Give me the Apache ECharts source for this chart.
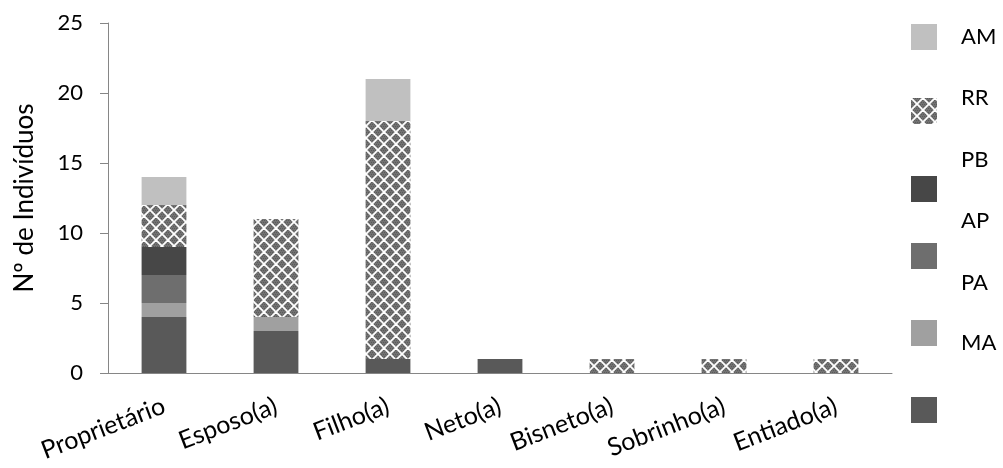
<!DOCTYPE html>
<html><head><meta charset="utf-8">
<script src="https://cdn.jsdelivr.net/npm/echarts@6/dist/echarts.min.js"></script>
<style>html,body{margin:0;padding:0;background:#fff}#c{width:1003px;height:468px}</style>
</head><body><div id="c"></div>
<script>
const categories = ['Proprietário','Esposo(a)','Filho(a)','Neto(a)','Bisneto(a)','Sobrinho(a)','Entiado(a)'];
const yTicks = [0,5,10,15,20,25];
// series from bottom of stack to top
const seriesBlank = [4,3,1,1,0,0,0];
const seriesMA = [1,1,0,0,0,0,0];
const seriesPA = [2,0,0,0,0,0,0];
const seriesAP = [2,0,0,0,0,0,0];
const seriesPB = [0,0,0,0,0,0,0];
const seriesRR = [3,7,17,0,1,1,1];
const seriesAM = [2,0,3,0,0,0,0];

const FONT = 'Lato';

function makePattern(){
  const P = 12;
  const c = document.createElement('canvas');
  c.width = P; c.height = P;
  const g = c.getContext('2d');
  g.fillStyle = '#727272'; g.fillRect(0,0,P,P);
  g.fillStyle = '#5a5a5a';
  for (let y=0;y<P;y+=2) for (let x=(y/2)%2;x<P;x+=2) g.fillRect(x,y,1,1);
  g.strokeStyle = '#ffffff'; g.lineWidth = 1.8;
  for (let k=-P;k<=2*P;k+=P){
    g.beginPath(); g.moveTo(k,0); g.lineTo(k+P,P); g.stroke();
    g.beginPath(); g.moveTo(k,P); g.lineTo(k+P,0); g.stroke();
  }
  return c;
}
const pattern = {image: makePattern(), repeat: 'repeat'};

const defs = [
  {name:' ', data:seriesBlank, color:'#595959'},
  {name:'MA', data:seriesMA, color:'#a0a0a0'},
  {name:'PA', data:seriesPA, color:'#6e6e6e'},
  {name:'AP', data:seriesAP, color:'#474747'},
  {name:'PB', data:seriesPB, color:'#ffffff'},
  {name:'RR', data:seriesRR, color:pattern},
  {name:'AM', data:seriesAM, color:'#c0c0c0'}
];

// legend layout (top to bottom)
const legendNames = ['AM','RR','PB','AP','PA','MA',' '];
const swatchCenters = {'AM':37,'RR':111,'AP':189,'PA':256,'MA':333,' ':410};
const labelCenters = [37,98,160,221,283,343,404];

const legends = [];
legendNames.forEach((n,i)=>{
  if (swatchCenters[n] !== undefined){
    legends.push({
      data:[{name:n, icon:'rect'}], orient:'vertical', left:911, top:swatchCenters[n]-13,
      itemWidth:26, itemHeight:26, padding:0, formatter:()=>'' ,
      textStyle:{fontSize:1}
    });
  }
  legends.push({
    data:[{name:n, icon:'rect', itemStyle:{opacity:0}}], orient:'vertical', left:955, top:labelCenters[i]-12,
    itemWidth:1, itemHeight:1, padding:0, itemGap:0,
    textStyle:{fontFamily:FONT, fontSize:22, color:'#000', lineHeight:24}
  });
});

const chart = echarts.init(document.getElementById('c'), null, {renderer:'canvas'});
chart.setOption({
  backgroundColor:'#fff',
  animation:false,
  legend: legends,
  grid:{left:108, right:111, top:23, bottom:95},
  xAxis:{
    type:'category', data:categories,
    axisLine:{lineStyle:{color:'#868686', width:1}},
    axisTick:{length:6, lineStyle:{color:'#868686'}},
    axisLabel:{rotate:21, margin:32, fontFamily:FONT, fontSize:25, color:'#000', interval:0}
  },
  yAxis:{
    type:'value', min:yTicks[0], max:yTicks[yTicks.length-1], interval:5,
    name:'Nº de Indivíduos', nameLocation:'middle', nameGap:70, nameRotate:90,
    nameTextStyle:{fontFamily:FONT, fontSize:26, color:'#000'},
    axisLine:{show:true, lineStyle:{color:'#868686', width:1}},
    axisTick:{show:true, length:8, lineStyle:{color:'#868686'}},
    splitLine:{show:false},
    axisLabel:{margin:25, fontFamily:FONT, fontSize:22, color:'#000'}
  },
  series: defs.map(d=>({
    name:d.name, type:'bar', stack:'total', data:d.data, barWidth:'40%',
    itemStyle:{color:d.color}
  }))
});
</script></body></html>
